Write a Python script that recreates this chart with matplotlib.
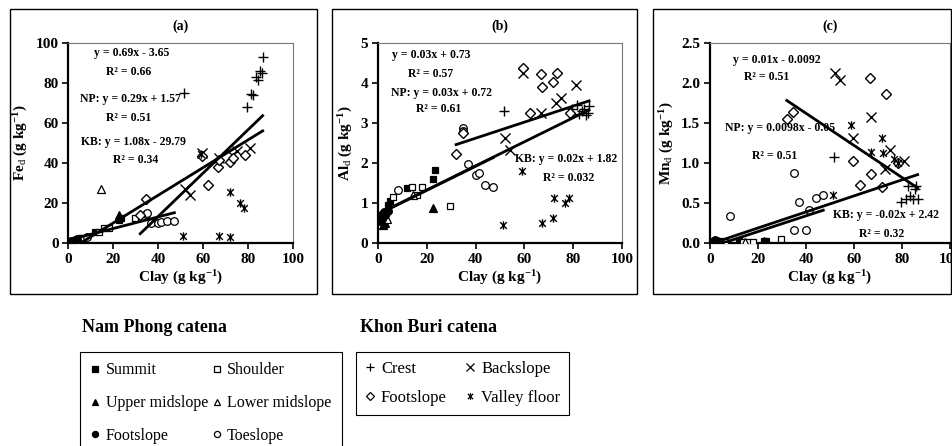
import numpy as np
import matplotlib
matplotlib.use("Agg")
import matplotlib.pyplot as plt
from matplotlib.path import Path
from matplotlib.patches import Rectangle
from matplotlib.lines import Line2D

plt.rcParams['font.family'] = ['Liberation Serif', 'DejaVu Serif']
plt.rcParams['mathtext.fontset'] = 'custom'
plt.rcParams['mathtext.rm'] = 'Liberation Serif'
plt.rcParams['mathtext.bf'] = 'Liberation Serif:bold'
plt.rcParams['mathtext.default'] = 'bf'

# Nam Phong catena (clay, Fe_d, Al_d, Mn_d)
summit_clay = [3.0, 4.2, 5.0, 12.0, 22.5, 23.5]
summit_fe = [1.0, 1.5, 2.5, 5.5, 11.5, 12.5]
summit_al = [0.75, 0.95, 1.05, 1.39, 1.60, 1.83]
summit_mn = [0.02, 0.03, 0.02, 0.03, 0.03, 0.03]

shoulder_clay = [6.3, 13.8, 16.0, 17.9, 29.5]
shoulder_fe = [2.5, 5.5, 7.5, 7.5, 12.7]
shoulder_al = [1.16, 1.41, 1.20, 1.41, 0.93]
shoulder_mn = [0.01, 0.01, 0.02, 0.02, 0.05]

uppermid_clay = [2.0, 3.0, 22.5]
uppermid_fe = [0.8, 1.2, 14.0]
uppermid_al = [0.45, 0.50, 0.87]
uppermid_mn = [0.01, 0.02, 0.03]

lowermid_clay = [3.5, 14.5]
lowermid_fe = [1.5, 27.0]
lowermid_al = [0.60, 1.20]
lowermid_mn = [0.02, 0.02]

npfoot_clay = [0.5, 1.0, 1.5, 2.0, 2.5, 3.0, 4.0]
npfoot_fe = [0.5, 1.0, 0.8, 1.2, 0.8, 1.5, 2.0]
npfoot_al = [0.55, 0.65, 0.60, 0.70, 0.78, 0.70, 0.80]
npfoot_mn = [0.01, 0.02, 0.03, 0.04, 0.02, 0.03, 0.01]

toe_clay = [8.3, 34.8, 35.0, 37.0, 40.0, 41.2, 44.0, 47.2]
toe_fe = [3.0, 14.5, 15.3, 10.3, 10.0, 10.5, 11.2, 11.3]
toe_al = [1.33, 2.87, 2.80, 1.98, 1.70, 1.75, 1.45, 1.41]
toe_mn = [0.34, 0.87, 0.17, 0.52, 0.16, 0.41, 0.56, 0.60]

# Khon Buri catena
crest_clay = [51.5, 79.5, 81.5, 82.3, 83.5, 84.5, 85.3, 86.0, 86.5]
crest_fe = [75.0, 68.0, 74.5, 74.0, 83.0, 81.5, 86.0, 85.0, 92.7]
crest_al = [3.30, 3.34, 3.45, 3.22, 3.30, 3.35, 3.20, 3.25, 3.42]
crest_mn = [1.08, 0.51, 0.55, 0.72, 0.59, 0.55, 0.68, 0.72, 0.55]

back_clay = [52.0, 54.0, 59.5, 67.0, 73.0, 75.0, 81.0]
back_fe = [27.0, 24.0, 45.0, 42.5, 44.0, 46.0, 47.5]
back_al = [2.62, 2.33, 4.24, 3.24, 3.49, 3.62, 3.95]
back_mn = [2.12, 2.03, 1.31, 1.57, 0.93, 1.16, 1.02]

kbfoot_clay = [32.0, 34.7, 59.6, 62.3, 66.7, 67.1, 71.8, 73.5, 78.5]
kbfoot_fe = [14.0, 22.0, 43.5, 29.0, 38.0, 41.5, 40.5, 42.5, 44.0]
kbfoot_al = [2.22, 2.75, 4.36, 3.24, 4.22, 3.89, 4.01, 4.25, 3.25]
kbfoot_mn = [1.55, 1.64, 1.03, 0.73, 2.06, 0.86, 0.70, 1.86, 1.00]

valley_clay = [51.2, 58.9, 67.1, 71.8, 72.1, 76.6, 78.4]
valley_fe = [3.5, 44.5, 3.5, 3.0, 25.5, 20.0, 17.5]
valley_al = [0.46, 1.79, 0.50, 0.62, 1.12, 1.00, 1.14]
valley_mn = [0.60, 1.47, 1.14, 1.31, 1.13, 1.05, 1.00]

# trend lines: (slope, intercept) for all, NP and KB
fe_fits = [(0.69, -3.65), (0.29, 1.57), (1.08, -29.79)]
al_fits = [(0.03, 0.73), (0.03, 0.72), (0.02, 1.82)]
mn_fits = [(0.01, -0.0092), (0.0098, -0.05), (-0.02, 2.42)]

fe_labels = ['y = 0.69x - 3.65', 'R² = 0.66', 'NP: y = 0.29x + 1.57', 'R² = 0.51',
             'KB: y = 1.08x - 29.79', 'R² = 0.34']
al_labels = ['y = 0.03x + 0.73', 'R² = 0.57', 'NP: y = 0.03x + 0.72', 'R² = 0.61',
             'KB: y = 0.02x + 1.82', 'R² = 0.032']
mn_labels = ['y = 0.01x - 0.0092', 'R² = 0.51', 'NP: y = 0.0098x - 0.05', 'R² = 0.51',
             'KB: y = -0.02x + 2.42', 'R² = 0.32']

# asterisk-like marker: a cross with a vertical bar
star = Path([(-1, -1), (1, 1), (-1, 1), (1, -1), (0, -1.25), (0, 1.25)],
            [Path.MOVETO, Path.LINETO, Path.MOVETO, Path.LINETO, Path.MOVETO, Path.LINETO])

np_styles = [('Summit', 's', 'black', 5), ('Shoulder', 's', 'white', 5),
             ('Upper midslope', '^', 'black', 5.5), ('Lower midslope', '^', 'white', 5.5),
             ('Footslope', 'o', 'black', 5.5), ('Toeslope', 'o', 'white', 5.5)]
kb_styles = [('Crest', '+', 'black', 7.5), ('Backslope', 'x', 'black', 7),
             ('Footslope', 'D', 'white', 5.2), ('Valley floor', star, 'black', 6)]

np_clay = [summit_clay, shoulder_clay, uppermid_clay, lowermid_clay, npfoot_clay, toe_clay]
kb_clay = [crest_clay, back_clay, kbfoot_clay, valley_clay]

panels = [
    dict(tag='(a)', ylab=r'Fe$_{\mathrm{d}}$ (g kg$^{-1}$)', ymax=100, yticks=np.arange(0, 101, 20), fmt='%d',
         np_y=[summit_fe, shoulder_fe, uppermid_fe, lowermid_fe, npfoot_fe, toe_fe],
         kb_y=[crest_fe, back_fe, kbfoot_fe, valley_fe], fits=fe_fits, labels=fe_labels,
         pos=[(28, 94.7), (27, 85.5), (27.5, 72), (27, 62.3), (29, 50.7), (30, 41.5)],
         rect=[68.3, 293.0], frame=[10, 316.7]),
    dict(tag='(b)', ylab=r'Al$_{\mathrm{d}}$ (g kg$^{-1}$)', ymax=5, yticks=np.arange(0, 6, 1), fmt='%d',
         np_y=[summit_al, shoulder_al, uppermid_al, lowermid_al, npfoot_al, toe_al],
         kb_y=[crest_al, back_al, kbfoot_al, valley_al], fits=al_fits, labels=al_labels,
         pos=[(22, 4.69), (21.5, 4.22), (26, 3.75), (25, 3.34), (77, 2.09), (78, 1.64)],
         rect=[378.0, 622.0], frame=[331.7, 637.0]),
    dict(tag='(c)', ylab=r'Mn$_{\mathrm{d}}$ (g kg$^{-1}$)', ymax=2.5, yticks=np.arange(0, 2.6, 0.5), fmt='%.1f',
         np_y=[summit_mn, shoulder_mn, uppermid_mn, lowermid_mn, npfoot_mn, toe_mn],
         kb_y=[crest_mn, back_mn, kbfoot_mn, valley_mn], fits=mn_fits, labels=mn_labels,
         pos=[(28, 2.29), (23.5, 2.07), (29, 1.44), (27, 1.09), (73.5, 0.35), (71.5, 0.12)],
         rect=[710.0, 950.0], frame=[653.0, 951.0]),
]

W, H = 953, 446
fig = plt.figure(figsize=(W / 100, H / 100), dpi=100)

all_np = np.concatenate(np_clay)
all_kb = np.concatenate(kb_clay)
all_x = np.concatenate([all_np, all_kb])
ranges = [(all_x.min(), all_x.max()), (all_np.min(), all_np.max()), (all_kb.min(), all_kb.max())]

for p in panels:
    x0, x1 = p['rect']
    top, bottom = 42.7, 243.3
    ax = fig.add_axes([x0 / W, 1 - bottom / H, (x1 - x0) / W, (bottom - top) / H])
    fig.patches.append(Rectangle((p['frame'][0] / W, 1 - 294 / H),
                                 (p['frame'][1] - p['frame'][0]) / W, (294 - 9) / H,
                                 transform=fig.transFigure, fill=False, ec='black', lw=1.0))

    for (name, m, fc, ms), xs, ys in zip(np_styles, np_clay, p['np_y']):
        ax.plot(xs, ys, ls='none', marker=m, ms=ms, mfc=fc, mec='black', mew=0.9, zorder=3)
    for (name, m, fc, ms), xs, ys in zip(kb_styles, kb_clay, p['kb_y']):
        ax.plot(xs, ys, ls='none', marker=m, ms=ms, mfc=fc, mec='black', mew=1.0, zorder=3)

    for (a, b), (lo, hi) in zip(p['fits'], ranges):
        xx = np.array([lo, hi])
        ax.plot(xx, a * xx + b, color='black', lw=2.0, zorder=4)

    for txt, (tx, ty) in zip(p['labels'], p['pos']):
        ax.text(tx, ty, txt, ha='center', va='center', fontsize=8.5, fontweight='bold', zorder=5)

    ax.set_xlim(0, 100)
    ax.set_ylim(0, p['ymax'])
    ax.set_xticks(np.arange(0, 101, 20))
    ax.set_yticks(p['yticks'])
    ax.set_yticklabels([p['fmt'] % v for v in p['yticks']])
    ax.tick_params(direction='out', length=4, width=1.2, labelsize=11, pad=3)
    for lab in ax.get_xticklabels() + ax.get_yticklabels():
        lab.set_fontweight('bold')
    ax.spines['left'].set_linewidth(1.6)
    ax.spines['bottom'].set_linewidth(1.6)
    ax.spines['top'].set_linewidth(0.8)
    ax.spines['right'].set_linewidth(0.8)
    ax.spines['top'].set_color('#777777')
    ax.spines['right'].set_color('#777777')
    ax.set_xlabel(r'Clay (g kg$^{-1}$)', fontsize=11, fontweight='bold', labelpad=2)
    ax.set_ylabel(p['ylab'], fontsize=11, fontweight='bold', labelpad=4)
    ax.set_title(p['tag'], fontsize=10, fontweight='bold', pad=9)

# legends for the two catenas, entries listed row by row
def handles(styles, order):
    out = []
    for i in order:
        name, m, fc, ms = styles[i]
        out.append(Line2D([], [], ls='none', marker=m, ms=ms * 0.8, mfc=fc, mec='black', mew=0.9, label=name))
    return out

fig.text(82 / W, 1 - 328 / H, 'Nam Phong catena', fontsize=13, fontweight='bold', va='center')
fig.text(360 / W, 1 - 328 / H, 'Khon Buri catena', fontsize=13, fontweight='bold', va='center')

kw = dict(ncol=2, fancybox=False, edgecolor='black', framealpha=1, fontsize=11.5,
          handlelength=0.6, handletextpad=0.35, borderpad=0.65, labelspacing=1.05,
          columnspacing=0.25, borderaxespad=0)
leg1 = fig.legend(handles=handles(np_styles, [0, 2, 4, 1, 3, 5]), loc='upper left',
                  bbox_to_anchor=(80 / W, 1 - 352 / H), **kw)
leg1.get_frame().set_linewidth(0.8)
kw.update(fontsize=12, labelspacing=0.75, borderpad=0.55, columnspacing=1.1)
leg2 = fig.legend(handles=handles(kb_styles, [0, 2, 1, 3]), loc='upper left',
                  bbox_to_anchor=(356 / W, 1 - 352 / H), **kw)
leg2.get_frame().set_linewidth(0.8)

fig.savefig('out.png', dpi=100)
